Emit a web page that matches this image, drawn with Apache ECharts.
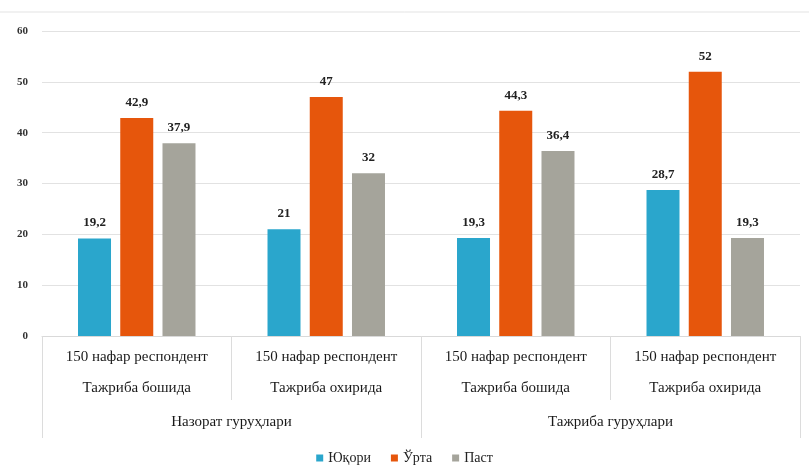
<!DOCTYPE html>
<html>
<head>
<meta charset="utf-8">
<script src="https://cdn.jsdelivr.net/npm/echarts@6/dist/echarts.min.js"></script>
<style>
  html, body { margin: 0; padding: 0; background: #fff; }
  #chart { width: 809px; height: 476px; }
</style>
</head>
<body>
<div id="chart"></div>
<script>
const subCategories = [
  '150 нафар респондент\nТажриба бошида',
  '150 нафар респондент\nТажриба охирида',
  '150 нафар респондент\nТажриба бошида',
  '150 нафар респондент\nТажриба охирида'
];
const groupCategories = ['Назорат гуруҳлари', 'Тажриба гуруҳлари'];
const seriesNames = ['Юқори', 'Ўрта', 'Паст'];
const highValues = [19.2, 21, 19.3, 28.7];
const midValues = [42.9, 47, 44.3, 52];
const lowValues = [37.9, 32, 36.4, 19.3];
const colors = ['#2aa6cc', '#e6560c', '#a5a49b'];

const chart = echarts.init(document.getElementById('chart'));
const serif = 'Liberation Serif';

const valueLabel = {
  show: true,
  position: 'top',
  distance: 9,
  fontFamily: serif,
  fontWeight: 'bold',
  fontSize: 13,
  color: '#222',
  formatter: p => String(p.value).replace('.', ',')
};

const option = {
  animation: false,
  color: colors,
  grid: { left: 42, right: 9, top: 31, bottom: 140 },
  legend: {
    data: seriesNames,
    bottom: 6,
    left: 'center',
    icon: 'rect',
    itemWidth: 7,
    itemHeight: 7,
    itemGap: 20,
    textStyle: { fontFamily: serif, fontSize: 14, color: '#222' }
  },
  graphic: [{
    type: 'line',
    shape: { x1: 0, y1: 12, x2: 809, y2: 12 },
    style: { stroke: '#e3e3e3', lineWidth: 1 }
  }],
  xAxis: [{
    type: 'category',
    data: subCategories,
    axisLine: { lineStyle: { color: '#d9d9d9' } },
    axisTick: { show: true, length: 64, interval: 0, lineStyle: { color: '#dcdcdc' } },
    axisLabel: {
      interval: 0,
      margin: 6,
      fontFamily: serif,
      fontSize: 15,
      lineHeight: 31,
      color: '#1a1a1a'
    }
  }, {
    type: 'category',
    data: groupCategories,
    position: 'bottom',
    axisLine: { show: false },
    axisTick: { show: true, length: 102, interval: 0, lineStyle: { color: '#dcdcdc' } },
    axisLabel: {
      interval: 0,
      margin: 79,
      fontFamily: serif,
      fontSize: 15,
      color: '#1a1a1a'
    }
  }],
  yAxis: {
    type: 'value',
    min: 0,
    max: 60,
    interval: 10,
    axisLine: { show: false },
    axisTick: { show: false },
    axisLabel: {
      margin: 14,
      fontFamily: serif,
      fontWeight: 'bold',
      fontSize: 11,
      color: '#333'
    },
    splitLine: { lineStyle: { color: '#e2e2e2' } }
  },
  series: [
    { name: seriesNames[0], type: 'bar', data: highValues, barWidth: 33, barGap: '28%', label: valueLabel },
    { name: seriesNames[1], type: 'bar', data: midValues, barWidth: 33, barGap: '28%', label: valueLabel },
    { name: seriesNames[2], type: 'bar', data: lowValues, barWidth: 33, barGap: '28%', label: valueLabel }
  ]
};

chart.setOption(option);
</script>
</body>
</html>
